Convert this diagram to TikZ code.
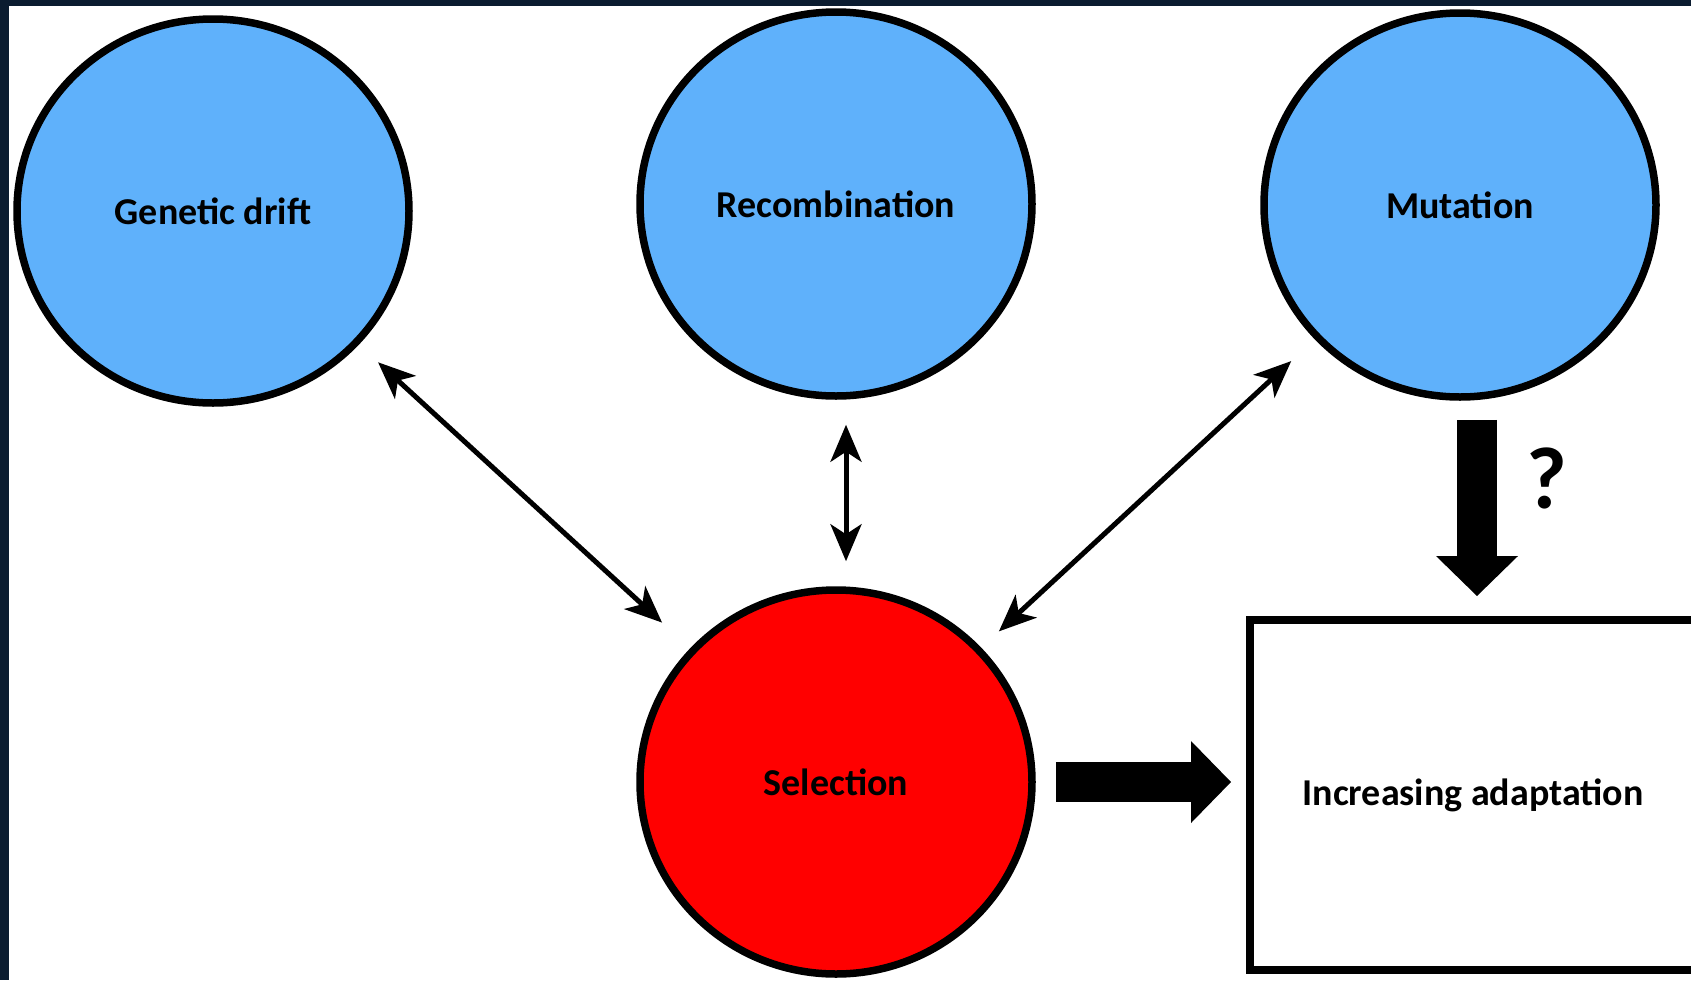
\documentclass[tikz,border=0pt]{standalone}
\usepackage{fontspec}
\setmainfont{Carlito}
\usetikzlibrary{shapes.geometric,arrows.meta}

\definecolor{slidenavy}{HTML}{0B1C30}
\definecolor{forceblue}{HTML}{5FB1FB}
\definecolor{selred}{HTML}{FF0000}

\tikzstyle{force}=[ellipse,draw=black,line width=0.075cm,fill=forceblue,minimum width=3.92cm,minimum height=3.84cm,font=\bfseries\fontsize{10.8}{13}\selectfont]
\tikzstyle{selforce}=[force,fill=selred]
\tikzstyle{outcome}=[rectangle,draw=black,line width=0.08cm,minimum width=4.46cm,minimum height=3.50cm,font=\bfseries\fontsize{10.8}{13}\selectfont]
\tikzstyle{link}=[line width=0.05cm,{Stealth[length=0.37cm,width=0.31cm,inset=0.1cm]}-{Stealth[length=0.37cm,width=0.31cm,inset=0.1cm]}]
\tikzstyle{bigarrow}=[line width=0.40cm,-{Triangle[length=0.40cm,width=0.82cm,line width'=0pt]}]

\begin{document}
\begin{tikzpicture}
	\useasboundingbox (0,0) rectangle (16.91,9.80);
	\fill[slidenavy] (0,0) rectangle (16.91,9.80);
	\fill[white] (0.09,0) rectangle (16.91,9.74);

	\node (Drift) at (2.13,7.69) [force] {Genetic drift};
	\node (Recomb) at (8.36,7.76) [force] {Recombination};
	\node (Mutation) at (14.60,7.75) [force] {Mutation};

	\node (Selection) at (8.36,1.98) [selforce] {Selection};

	\node (adapt) at (14.73,1.85) [outcome] {Increasing adaptation};
	\node (query) at (15.47,5.02) [font=\bfseries\fontsize{25}{30}\selectfont] {?};

	\draw [link,shorten <=0.26cm,shorten >=0.38cm] (Drift) to (Selection);
	\draw [link,shorten <=0.25cm,shorten >=0.25cm] ([xshift=0.1cm]Recomb.south) to ([xshift=0.1cm]Selection.north);
	\draw [link,shorten <=0.32cm,shorten >=0.24cm] (Mutation) to (Selection);

	\coordinate (qshaft) at ([xshift=0.17cm]Mutation.south);
	\draw [bigarrow,shorten <=0.19cm,shorten >=0.20cm] (qshaft) to (qshaft |- adapt.north);
	\draw [bigarrow,shorten <=0.20cm,shorten >=0.15cm] (Selection.east) to (Selection.east -| adapt.west);


\end{tikzpicture}
\end{document}
